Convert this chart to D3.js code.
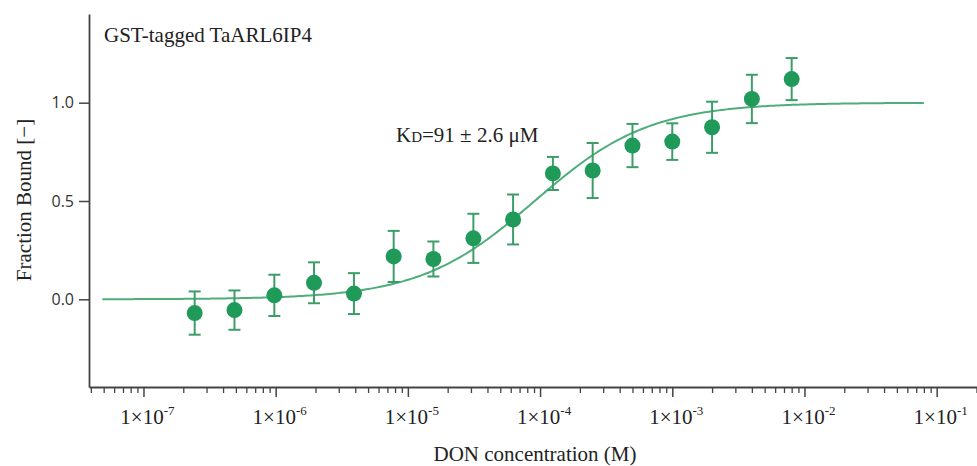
<!DOCTYPE html>
<html>
<head>
<meta charset="utf-8">
<script src="https://cdn.jsdelivr.net/npm/d3@7"></script>
<style>
  body { margin: 0; background: #fff; }
  svg { display: block; }
</style>
</head>
<body>
<svg id="chart"></svg>
<script>
// DON concentration (M), 2-fold dilution series
const concentrations = [
  2.44e-7, 4.88e-7, 9.77e-7, 1.95e-6, 3.91e-6, 7.81e-6, 1.56e-5, 3.13e-5,
  6.25e-5, 1.25e-4, 2.5e-4, 5e-4, 1e-3, 2e-3, 4e-3, 8e-3
];
const fractionBound = [
  -0.07, -0.055, 0.02, 0.084, 0.029, 0.218, 0.205, 0.31,
  0.406, 0.64, 0.655, 0.782, 0.802, 0.875, 1.019, 1.12
];
const errors = [
  0.11, 0.10, 0.105, 0.104, 0.104, 0.13, 0.089, 0.125,
  0.127, 0.084, 0.14, 0.11, 0.093, 0.13, 0.123, 0.107
];
const kd = 91e-6;
const fitRange = [4.88e-8, 8e-2];
const xMajorTicks = [-7, -6, -5, -4, -3, -2, -1];
const yTicks = [0, 0.5, 1.0];

const width = 977, height = 466;
const margin = { top: 14, right: 0, bottom: 79, left: 89 };

const svg = d3.select("#chart").attr("width", width).attr("height", height);

const x = d3.scaleLog()
  .domain([Math.pow(10, -7.412), Math.pow(10, -0.695)])
  .range([margin.left, width - margin.right]);

const y = d3.scaleLinear()
  .domain([-0.446, 1.451])
  .range([height - margin.bottom, margin.top]);

const axisColor = "#444";
const serif = "'Liberation Serif', 'Times New Roman', serif";

// minor ticks
const minorTicks = [];
for (let e = -8; e <= -1; e++) {
  for (let m = 2; m <= 9; m++) {
    const v = m * Math.pow(10, e);
    if (v >= x.domain()[0] && v <= x.domain()[1]) minorTicks.push(v);
  }
}

const xAxisG = svg.append("g")
  .attr("transform", `translate(0,${height - margin.bottom})`);

xAxisG.call(d3.axisBottom(x)
  .tickValues(minorTicks)
  .tickSize(6)
  .tickSizeOuter(0)
  .tickFormat(""));
xAxisG.selectAll("line").attr("stroke", axisColor).attr("stroke-width", 1.3);

const xMajorG = svg.append("g")
  .attr("transform", `translate(0,${height - margin.bottom})`)
  .call(d3.axisBottom(x)
    .tickValues(xMajorTicks.map(e => Math.pow(10, e)))
    .tickSize(10)
    .tickSizeOuter(0)
    .tickFormat(""));
xMajorG.select(".domain").remove();
xMajorG.selectAll("line").attr("stroke", axisColor).attr("stroke-width", 1.5);
xAxisG.select(".domain").attr("stroke", axisColor).attr("stroke-width", 1.8);

// x tick labels with superscript exponents
const xLabels = svg.append("g");
xMajorTicks.forEach(e => {
  const t = xLabels.append("text")
    .attr("x", x(Math.pow(10, e)) + 4)
    .attr("y", 424)
    .attr("text-anchor", "middle")
    .attr("font-family", serif)
    .attr("font-size", 21)
    .attr("fill", "#222");
  t.append("tspan").text("1×10");
  t.append("tspan").attr("dy", -9).attr("font-size", 13).text(String(e));
});

// y axis
const yAxisG = svg.append("g")
  .attr("transform", `translate(${margin.left},0)`)
  .call(d3.axisLeft(y).tickValues(yTicks).tickSize(10).tickSizeOuter(0)
    .tickFormat(d3.format(".1f")));
yAxisG.select(".domain").attr("stroke", axisColor).attr("stroke-width", 1.8);
yAxisG.selectAll("line").attr("stroke", axisColor).attr("stroke-width", 1.5);
yAxisG.selectAll("text")
  .attr("x", -15)
  .attr("font-family", "'Open Sans', 'Noto Sans', sans-serif")
  .attr("font-size", 16)
  .attr("fill", "#333");

// fit curve
const fitPoints = d3.range(0, 301).map(i => {
  const lc = Math.log10(fitRange[0]) + i / 300 * (Math.log10(fitRange[1]) - Math.log10(fitRange[0]));
  const c = Math.pow(10, lc);
  return [c, c / (c + kd)];
});
svg.append("path")
  .datum(fitPoints)
  .attr("fill", "none")
  .attr("stroke", "#4eae7b")
  .attr("stroke-width", 2)
  .attr("d", d3.line().x(d => x(d[0])).y(d => y(d[1])));

// data with error bars
const data = concentrations.map((c, i) => ({ c, v: fractionBound[i], e: errors[i] }));
const pts = svg.append("g").selectAll("g").data(data).join("g");
const errColor = "#3d9d69";
pts.append("line")
  .attr("x1", d => x(d.c)).attr("x2", d => x(d.c))
  .attr("y1", d => y(d.v + d.e)).attr("y2", d => y(d.v - d.e))
  .attr("stroke", errColor).attr("stroke-width", 2);
pts.append("line")
  .attr("x1", d => x(d.c) - 6).attr("x2", d => x(d.c) + 6)
  .attr("y1", d => y(d.v + d.e)).attr("y2", d => y(d.v + d.e))
  .attr("stroke", errColor).attr("stroke-width", 2);
pts.append("line")
  .attr("x1", d => x(d.c) - 6).attr("x2", d => x(d.c) + 6)
  .attr("y1", d => y(d.v - d.e)).attr("y2", d => y(d.v - d.e))
  .attr("stroke", errColor).attr("stroke-width", 2);
pts.append("circle")
  .attr("cx", d => x(d.c)).attr("cy", d => y(d.v))
  .attr("r", 8)
  .attr("fill", "#1f9a59");

// texts
svg.append("text")
  .attr("x", 104).attr("y", 42)
  .attr("font-family", serif).attr("font-size", 21).attr("fill", "#222")
  .text("GST-tagged TaARL6IP4");

const kdText = svg.append("text")
  .attr("x", 396).attr("y", 142)
  .attr("font-family", serif).attr("font-size", 21).attr("fill", "#222");
kdText.append("tspan").text("K");
kdText.append("tspan").attr("font-size", 15).text("D");
kdText.append("tspan").text("=91 ± 2.6 μM");

svg.append("text")
  .attr("x", 535).attr("y", 461)
  .attr("text-anchor", "middle")
  .attr("font-family", serif).attr("font-size", 21).attr("fill", "#222")
  .text("DON concentration (M)");

svg.append("text")
  .attr("transform", "translate(31,200) rotate(-90)")
  .attr("text-anchor", "middle")
  .attr("font-family", serif).attr("font-size", 21).attr("fill", "#222")
  .text("Fraction Bound [−]");
</script>
</body>
</html>
